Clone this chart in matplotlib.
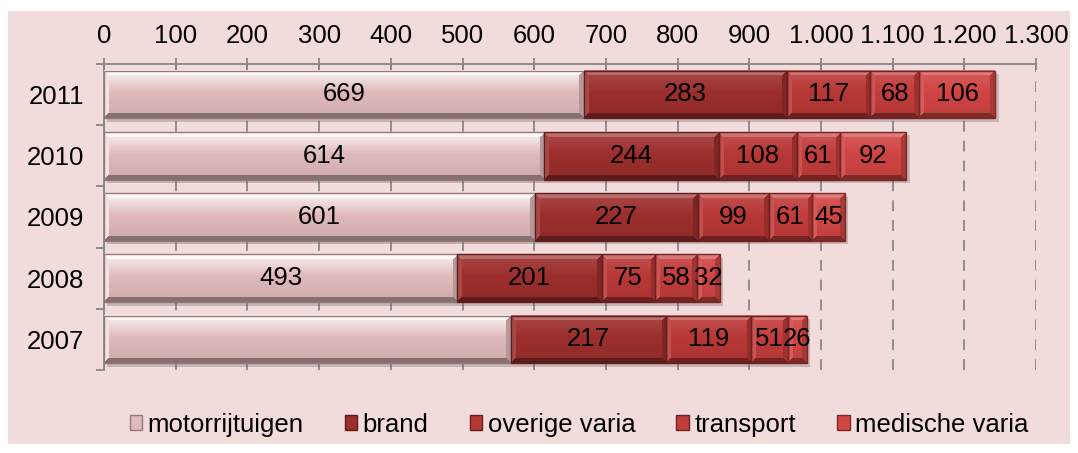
import numpy as np
import matplotlib.pyplot as plt
import matplotlib.patheffects as pe
from matplotlib.colors import to_rgb
from matplotlib.patches import Patch, Rectangle
from matplotlib.ticker import FuncFormatter

plt.rcParams['font.family'] = ['Liberation Sans', 'DejaVu Sans']

# gegevens
jaren = ['2011', '2010', '2009', '2008', '2007']
motorrijtuigen = [669, 614, 601, 493, 567]
brand = [283, 244, 227, 201, 217]
overige_varia = [117, 108, 99, 75, 119]
transport = [68, 61, 61, 58, 51]
medische_varia = [106, 92, 45, 32, 26]
reeksen = ['motorrijtuigen', 'brand', 'overige varia', 'transport', 'medische varia']
# bij 2007 staat geen label voor motorrijtuigen
verborgen_labels = [('motorrijtuigen', '2007')]

kleuren = ['#E0BABA', '#9C2F2D', '#B83836', '#C23D3B', '#D04543']
randen = ['#957878', '#5E1C1B', '#651F1E', '#6E2322', '#7A2826']
# (bovenrand, binnen-glans, linkerrand)
glans = [(0.9, 0.8, 0.6), (0.3, 0.12, 0.12), (0.3, 0.12, 0.12), (0.3, 0.12, 0.12), (0.3, 0.12, 0.12)]

FS = 18.5


def meng(basis, f):
    if f >= 0:
        return basis + (1 - basis) * f
    return basis * (1 + f)


def verloop(kleur, g, nx, ny, b=5):
    # afgeschuinde staaf: lichte boven/links-rand, donkere onder/rechts-rand
    boven, binnen, links_r = g
    basis = np.array(to_rgb(kleur))
    img = np.zeros((ny, nx, 3))
    for i in range(ny):
        t = i / max(ny - 1, 1)
        f_in = np.interp(t, [0, 0.15, 0.45, 1.0], [binnen, binnen * 0.7, 0.0, -0.08])
        for j in range(nx):
            d = [i + 0.5, ny - i - 0.5, j + 0.5, nx - j - 0.5]
            k = int(np.argmin(d))
            if d[k] < b:
                f = [boven, -0.4, links_r, -0.18][k]
            else:
                f = f_in
            img[i, j] = meng(basis, f)
    return np.clip(img, 0, 1)


fig = plt.figure(figsize=(10.78, 4.53), dpi=100)
fig.patches.append(Rectangle((8 / 1078, 9 / 453), 1062 / 1078, 433 / 453,
                             transform=fig.transFigure, facecolor='#F2DCDB',
                             edgecolor='none', zorder=-10))

ax = fig.add_axes([0.0965, 0.183, 0.8646, 0.676])
ax.set_facecolor('none')
ax.set_xlim(0, 1300)
ax.set_ylim(-0.5, len(jaren) - 0.5)
px_x = ax.transData.transform((1, 0))[0] - ax.transData.transform((0, 0))[0]
px_y = ax.transData.transform((0, 1))[1] - ax.transData.transform((0, 0))[1]

ypos = np.arange(len(jaren))[::-1]
waarden = [motorrijtuigen, brand, overige_varia, transport, medische_varia]
links = np.zeros(len(jaren))

for naam, vals, kleur, rand, g in zip(reeksen, waarden, kleuren, randen, glans):
    vals = np.array(vals, dtype=float)
    staven = ax.barh(ypos, vals, left=links, height=0.78, color=kleur,
                     edgecolor='none', zorder=2)
    for p in staven:
        p.set_path_effects([pe.SimplePatchShadow(offset=(2.5, -2.5), shadow_rgbFace='#7a6a6a', alpha=0.35),
                            pe.Normal()])
        x0, y0 = p.get_x(), p.get_y()
        nx = max(int(round(p.get_width() * px_x)), 2)
        ny = max(int(round(p.get_height() * px_y)), 2)
        ax.imshow(verloop(kleur, g, nx, ny), extent=(x0, x0 + p.get_width(), y0, y0 + p.get_height()),
                  origin='upper', aspect='auto', interpolation='nearest', zorder=3)
    ax.barh(ypos, vals, left=links, height=0.78, facecolor='none',
            edgecolor=rand, linewidth=1.0, zorder=4)
    for y, l, v, jaar in zip(ypos, links, vals, jaren):
        if (naam, jaar) in verborgen_labels:
            continue
        ax.text(l + v / 2, y, f'{int(v)}', ha='center', va='center',
                fontsize=FS, color='black', zorder=5)
    links = links + vals

ax.set_xlim(0, 1300)
ax.set_ylim(-0.5, len(jaren) - 0.5)
ax.set_xticks(np.arange(0, 1301, 100))
ax.xaxis.set_major_formatter(FuncFormatter(lambda v, _: f'{int(v):,}'.replace(',', '.')))
ax.xaxis.tick_top()
ax.tick_params(axis='x', direction='inout', length=9, width=1.3, color='#868686',
               labelsize=FS, pad=7)

ax.set_yticks(ypos, jaren)
ax.set_yticks(np.arange(-0.5, len(jaren)), minor=True)
ax.tick_params(axis='y', which='major', length=0, labelsize=FS, pad=14)
ax.tick_params(axis='y', which='minor', length=6, width=1.3, color='#868686', direction='out')

ax.grid(axis='x', color='#868686', linestyle=(0, (6, 5)), linewidth=1.3)
ax.set_axisbelow(True)
for s in ['bottom', 'right']:
    ax.spines[s].set_visible(False)
for s in ['top', 'left']:
    ax.spines[s].set_color('#868686')
    ax.spines[s].set_linewidth(1.3)

handles = [Patch(facecolor=k, edgecolor=r, label=n) for k, r, n in zip(kleuren, randen, reeksen)]
fig.legend(handles=handles, loc='center', bbox_to_anchor=(0.537, 0.062), ncol=5,
           frameon=False, fontsize=FS, handlelength=0.5, handleheight=0.5,
           handletextpad=0.2, columnspacing=1.6)

fig.savefig('out.png', dpi=100)
